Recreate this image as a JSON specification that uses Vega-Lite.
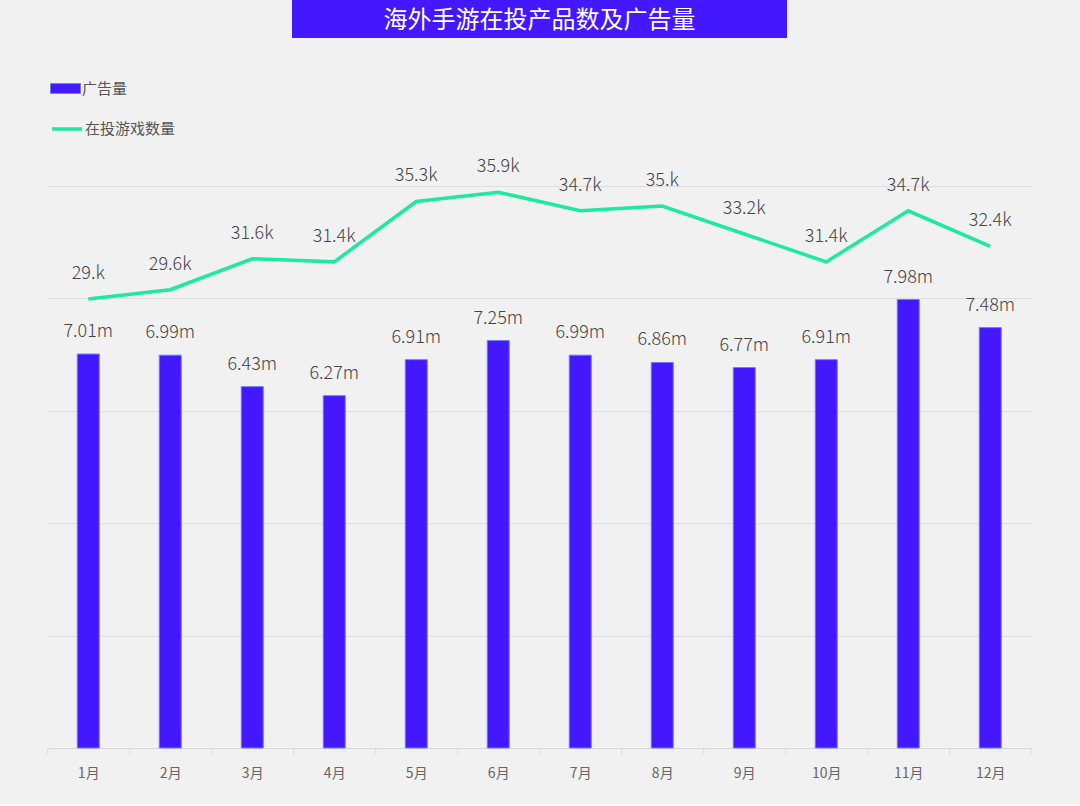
{
  "$schema": "https://vega.github.io/schema/vega-lite/v6.json",
  "background": "#f1f1f1",
  "padding": {"left": 46, "top": 0, "right": 50, "bottom": 24},
  "config": {
    "view": {"stroke": null},
    "font": "Noto Sans CJK SC"
  },
  "center": true,
  "spacing": 120,
  "vconcat": [
    {
      "width": 495,
      "height": 38,
      "view": {"fill": "#4318ff", "stroke": null},
      "data": {"values": [{"t": "海外手游在投产品数及广告量"}]},
      "mark": {"type": "text", "color": "#ffffff", "fontSize": 24, "baseline": "middle", "align": "center", "dy": 2},
      "encoding": {"text": {"field": "t"}}
    },
    {
      "width": 984,
      "height": 562,
      "data": {
        "values": [
          {"month": "1月", "ads": 7.01, "adsLabel": "7.01m", "games": 29.0, "gamesLabel": "29.k"},
          {"month": "2月", "ads": 6.99, "adsLabel": "6.99m", "games": 29.6, "gamesLabel": "29.6k"},
          {"month": "3月", "ads": 6.43, "adsLabel": "6.43m", "games": 31.6, "gamesLabel": "31.6k"},
          {"month": "4月", "ads": 6.27, "adsLabel": "6.27m", "games": 31.4, "gamesLabel": "31.4k"},
          {"month": "5月", "ads": 6.91, "adsLabel": "6.91m", "games": 35.3, "gamesLabel": "35.3k"},
          {"month": "6月", "ads": 7.25, "adsLabel": "7.25m", "games": 35.9, "gamesLabel": "35.9k"},
          {"month": "7月", "ads": 6.99, "adsLabel": "6.99m", "games": 34.7, "gamesLabel": "34.7k"},
          {"month": "8月", "ads": 6.86, "adsLabel": "6.86m", "games": 35.0, "gamesLabel": "35.k"},
          {"month": "9月", "ads": 6.77, "adsLabel": "6.77m", "games": 33.2, "gamesLabel": "33.2k"},
          {"month": "10月", "ads": 6.91, "adsLabel": "6.91m", "games": 31.4, "gamesLabel": "31.4k"},
          {"month": "11月", "ads": 7.98, "adsLabel": "7.98m", "games": 34.7, "gamesLabel": "34.7k"},
          {"month": "12月", "ads": 7.48, "adsLabel": "7.48m", "games": 32.4, "gamesLabel": "32.4k"}
        ]
      },
      "encoding": {
        "x": {
          "field": "month",
          "type": "nominal",
          "sort": null,
          "scale": {"paddingInner": 0, "paddingOuter": 0},
          "axis": {
            "title": null,
            "labelAngle": 0,
            "grid": false,
            "tickBand": "extent",
            "tickSize": 6,
            "domainColor": "#d8d8d8",
            "tickColor": "#d8d8d8",
            "labelColor": "#666666",
            "labelFontSize": 14,
            "labelPadding": 12
          }
        }
      },
      "layer": [
        {
          "mark": {"type": "bar", "width": 22, "stroke": "#6f7dff", "strokeWidth": 1},
          "encoding": {
            "y": {
              "field": "ads",
              "type": "quantitative",
              "scale": {"domain": [0, 10], "nice": false},
              "axis": {
                "title": null,
                "labels": false,
                "ticks": false,
                "domain": false,
                "grid": true,
                "gridColor": "#dedede",
                "gridWidth": 1,
                "values": [2, 4, 6, 8, 10]
              }
            },
            "fill": {
              "datum": "广告量",
              "scale": {"range": ["#4318ff"]},
              "legend": {
                "title": null,
                "orient": "none",
                "legendX": 3,
                "legendY": 73,
                "symbolType": "M-1,-0.33H1V0.33H-1Z",
                "symbolSize": 900,
                "symbolStrokeColor": "#6f7dff",
                "symbolStrokeWidth": 1,
                "labelFontSize": 15,
                "labelColor": "#555555",
                "labelOffset": 1,
                "padding": 0
              }
            }
          }
        },
        {
          "mark": {"type": "text", "fontSize": 18, "fontWeight": 300, "color": "#444444", "baseline": "middle", "dy": -22},
          "encoding": {
            "y": {"field": "ads", "type": "quantitative", "scale": {"domain": [0, 10], "nice": false}, "axis": null},
            "text": {"field": "adsLabel"}
          }
        },
        {
          "mark": {"type": "line", "strokeWidth": 3.5},
          "encoding": {
            "y": {"field": "games", "type": "quantitative", "scale": {"domain": [0, 36.3], "nice": false}, "axis": null},
            "stroke": {
              "datum": "在投游戏数量",
              "scale": {"range": ["#1de9a0"]},
              "legend": {
                "title": null,
                "orient": "none",
                "legendX": 3,
                "legendY": 112,
                "symbolType": "stroke",
                "symbolSize": 900,
                "symbolStrokeWidth": 3.5,
                "labelFontSize": 15,
                "labelColor": "#555555",
                "labelOffset": 1,
                "padding": 0
              }
            }
          }
        },
        {
          "mark": {"type": "text", "fontSize": 18, "fontWeight": 300, "color": "#444444", "baseline": "middle", "dy": -25},
          "encoding": {
            "y": {"field": "games", "type": "quantitative", "scale": {"domain": [0, 36.3], "nice": false}, "axis": null},
            "text": {"field": "gamesLabel"}
          }
        }
      ],
      "resolve": {"scale": {"y": "independent"}}
    }
  ]
}
